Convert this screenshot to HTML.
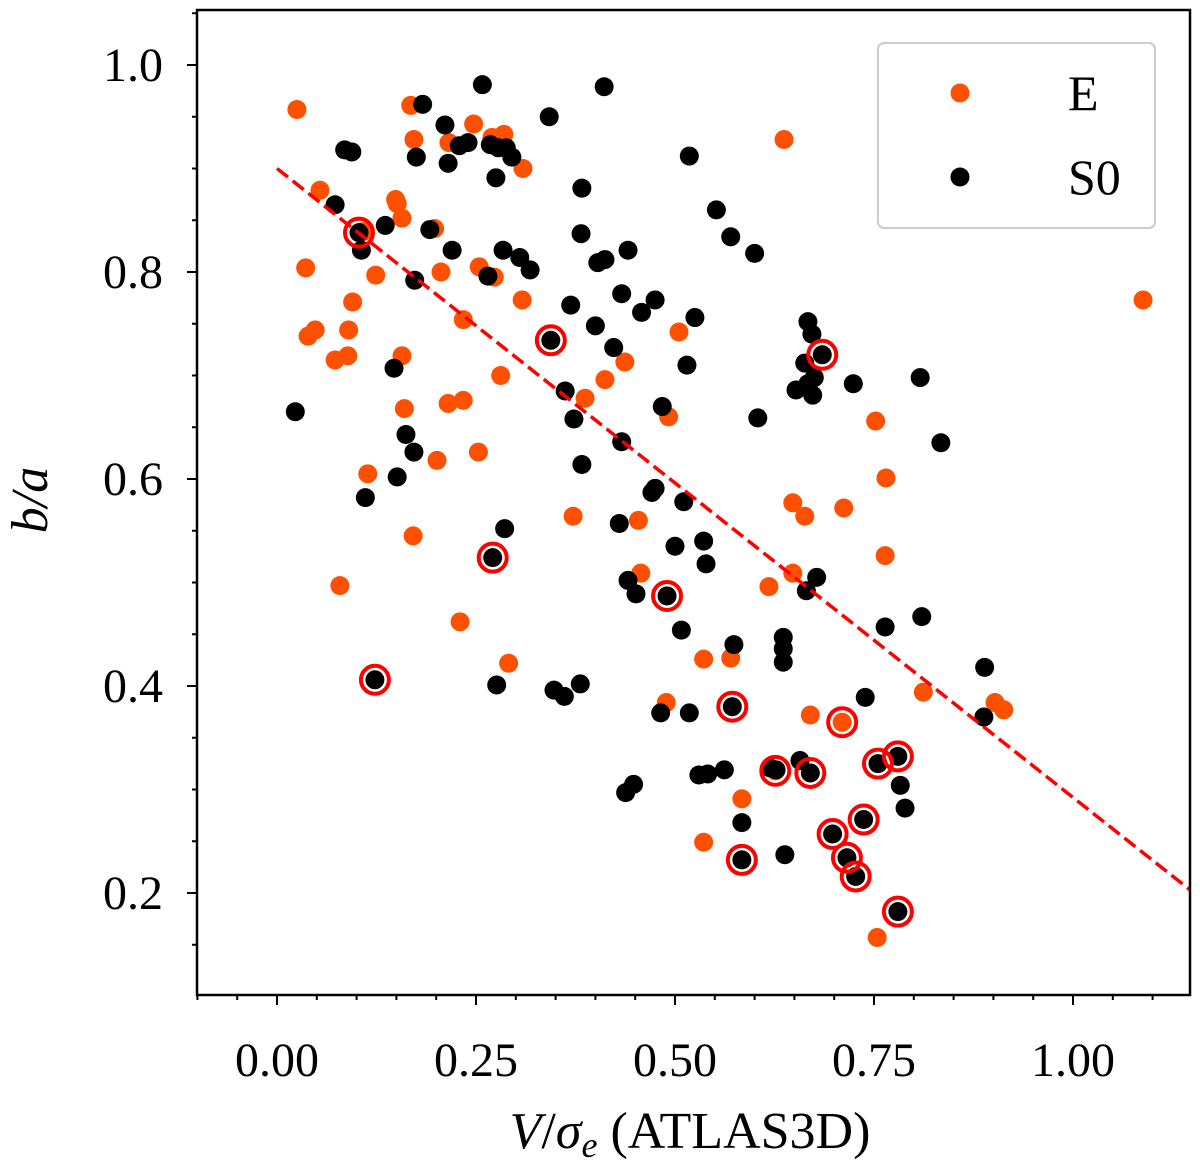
<!DOCTYPE html>
<html><head><meta charset="utf-8"><style>
html,body{margin:0;padding:0;background:#fff;}
svg text{font-family:"Liberation Serif",serif;}
</style></head><body>
<svg id="chart" width="1200" height="1163" xmlns="http://www.w3.org/2000/svg">
<rect x="0" y="0" width="1200" height="1163" fill="#fff"/>
<g id="marks"></g>
<g id="axes"></g>
</svg>
<script>
const xTicks=[0,0.25,0.5,0.75,1.0];
const xTickLabels=["0.00","0.25","0.50","0.75","1.00"];
const yTicks=[0.2,0.4,0.6,0.8,1.0];
const yTickLabels=["0.2","0.4","0.6","0.8","1.0"];
const eX=[.025,.036,.054,.039,.048,.073,.089,.090,.095,.079,.114,.124,.108,.149,.151,.157,.157,.160,.171,.201,.206,.216,.168,.172,.198,.215,.234,.230,.247,.254,.253,.270,.285,.273,.281,.291,.309,.308,.372,.387,.412,.437,.454,.457,.492,.505,.489,.536,.584,.570,.637,.618,.648,.648,.663,.670,.710,.712,.752,.765,.764,.754,.812,.902,.913,1.088,.626,.536,.234];
const eY=[.957,.804,.879,.738,.744,.715,.719,.744,.771,.497,.605,.797,.839,.870,.866,.852,.719,.668,.545,.618,.800,.925,.961,.928,.842,.673,.676,.462,.943,.805,.626,.930,.933,.795,.700,.422,.900,.773,.564,.678,.696,.713,.560,.509,.660,.742,.384,.426,.291,.427,.928,.496,.509,.577,.564,.372,.365,.572,.656,.601,.526,.157,.394,.384,.377,.773,.318,.249,.754];
const s0X=[.023,.073,.085,.094,.103,.106,.136,.111,.147,.151,.162,.172,.175,.173,.183,.192,.211,.215,.220,.229,.240,.258,.268,.275,.278,.288,.295,.265,.284,.305,.318,.286,.276,.342,.344,.348,.361,.362,.369,.373,.383,.382,.383,.381,.403,.411,.412,.400,.423,.433,.433,.441,.458,.475,.430,.441,.451,.448,.438,.471,.475,.482,.484,.490,.500,.508,.518,.515,.511,.518,.525,.536,.539,.530,.541,.552,.562,.570,.574,.584,.584,.600,.604,.572,.638,.636,.636,.636,.619,.627,.657,.652,.667,.675,.667,.672,.663,.673,.685,.678,.665,.670,.724,.739,.698,.716,.727,.737,.764,.755,.780,.783,.789,.780,.808,.810,.834,.889,.888,.123,.271];
const s0Y=[.665,.865,.918,.916,.838,.821,.845,.582,.707,.602,.643,.626,.911,.792,.962,.841,.942,.905,.821,.922,.925,.981,.923,.891,.920,.920,.911,.796,.821,.814,.802,.552,.401,.950,.734,.396,.390,.685,.768,.658,.881,.837,.614,.402,.809,.979,.812,.748,.727,.779,.636,.821,.761,.773,.557,.502,.489,.305,.297,.587,.591,.374,.670,.487,.535,.454,.912,.710,.578,.374,.756,.540,.518,.314,.315,.860,.319,.834,.440,.268,.232,.818,.659,.380,.237,.447,.436,.423,.321,.319,.328,.686,.692,.698,.752,.740,.712,.681,.720,.505,.492,.316,.692,.389,.257,.234,.216,.271,.457,.325,.332,.304,.282,.182,.698,.467,.635,.418,.370,.406,.524];
const ringX=[.103,.344,.685,.271,.490,.123,.572,.626,.670,.710,.755,.780,.698,.737,.716,.727,.584,.780];
const ringY=[.838,.734,.720,.524,.487,.406,.380,.318,.316,.365,.325,.332,.257,.271,.234,.216,.232,.182];
const fitX=[0,1.147];
const fitY=[0.9,0.203];

const L=197,R=1190,T=10,B=995;
const sx=v=>277+v*796;
const sy=v=>65+(1-v)*1035;
const NS="http://www.w3.org/2000/svg";
function mk(tag,attrs,parent){const e=document.createElementNS(NS,tag);for(const k in attrs)e.setAttribute(k,attrs[k]);parent.appendChild(e);return e;}
const marks=document.getElementById('marks');
const axes=document.getElementById('axes');
for(let i=0;i<eX.length;i++){
 const c=mk('circle',{cx:sx(eX[i]),cy:sy(eY[i]),r:9.5,fill:'#ff5000'},marks);
 
 
}
for(let i=0;i<s0X.length;i++){
 const c=mk('circle',{cx:sx(s0X[i]),cy:sy(s0Y[i]),r:9.5,fill:'#000'},marks);
 
 
}
for(let i=0;i<ringX.length;i++){
 const c=mk('circle',{cx:sx(ringX[i]),cy:sy(ringY[i]),r:14,fill:'none',stroke:'#f00','stroke-width':4},marks);
 
 
}
const fl=mk('line',{x1:sx(fitX[0]),y1:sy(fitY[0]),x2:sx(fitX[1]),y2:sy(fitY[1]),stroke:'#f00','stroke-width':3.5,'stroke-dasharray':'14,6'},marks);


const fr=mk('rect',{x:L,y:T,width:R-L,height:B-T,fill:'none',stroke:'#000','stroke-width':2.5},axes);


for(let k=-2;k<=22;k++){const v=k*0.05;const x=sx(v);if(x<L||x>R)continue;
 const major=(k%5===0);
 const t=mk('line',{x1:x,y1:B,x2:x,y2:B+(major?10:5),stroke:'#000','stroke-width':2},axes);
 
 }
for(let i=0;i<xTicks.length;i++){
 const t=mk('text',{x:sx(xTicks[i]),y:1076,'font-size':48,'text-anchor':'middle'},axes);t.textContent=xTickLabels[i];
 
 }
for(let k=2;k<=21;k++){const v=k*0.05;const y=sy(v);if(y<T||y>B)continue;
 const major=(k%4===0);
 const t=mk('line',{x1:L,y1:y,x2:L-(major?10:5),y2:y,stroke:'#000','stroke-width':2},axes);
 
 }
for(let i=0;i<yTicks.length;i++){
 const t=mk('text',{x:163,y:sy(yTicks[i])+16,'font-size':48,'text-anchor':'end'},axes);t.textContent=yTickLabels[i];
 
 }
</script>
<svg style="position:absolute;left:0;top:0" width="1200" height="1163" xmlns="http://www.w3.org/2000/svg">
<text x="690" y="1148" font-size="52" text-anchor="middle" font-family="Liberation Serif, serif"><tspan font-style="italic">V</tspan>/<tspan font-style="italic">σ</tspan><tspan font-style="italic" font-size="36" dy="9">e</tspan><tspan dy="-9"> (ATLAS3D)</tspan></text>
<text transform="translate(47,500) rotate(-90)" font-size="52" text-anchor="middle" font-family="Liberation Serif, serif" font-style="italic">b/a</text>
<g>
<rect x="878" y="43" width="277" height="185" rx="6" fill="#fff" stroke="#ccc" stroke-width="2"/>
<circle cx="960" cy="93" r="9.5" fill="#ff5000"/>
<text x="1068" y="110" font-size="50" font-family="Liberation Serif, serif">E</text>
<circle cx="960" cy="177" r="9.5" fill="#000"/>
<text x="1068" y="194" font-size="50" font-family="Liberation Serif, serif">S0</text>
</g>
</svg>
</body></html>
